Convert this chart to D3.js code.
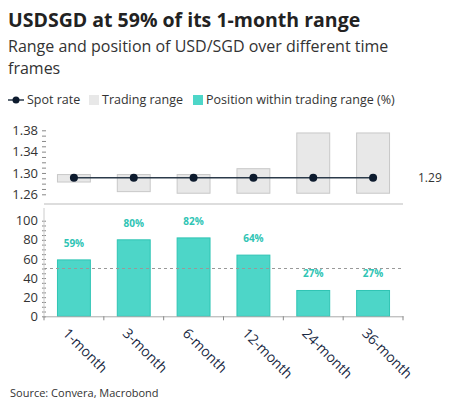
<!DOCTYPE html><html><head><meta charset="utf-8"><script src="https://d3js.org/d3.v7.min.js"></script>
<style>body{margin:0;background:#fff;font-family:"Open Sans",sans-serif}</style></head><body><script>
const categories=["1-month","3-month","6-month","12-month","24-month","36-month"];
const rangeLow=[1.283,1.265,1.262,1.262,1.262,1.262];
const rangeHigh=[1.297,1.297,1.297,1.308,1.375,1.375];
const spot=[1.291,1.291,1.291,1.291,1.291,1.291];
const position=[59,80,82,64,27,27];
const topTicks=[1.26,1.30,1.34,1.38];
const botTicks=[0,20,40,60,80,100];
const W=454,H=416,L=44,R=403;
const svg=d3.select("body").append("svg").attr("width",W).attr("height",H);
svg.append("text").attr("x",8).attr("y",27).attr("font-size",19.5).attr("font-weight",700).attr("fill","#222").text("USDSGD at 59% of its 1-month range");
svg.append("text").attr("x",8).attr("y",52).attr("font-size",16).attr("fill","#333").text("Range and position of USD/SGD over different time");
svg.append("text").attr("x",8).attr("y",74).attr("font-size",16).attr("fill","#333").text("frames");
const lg=svg.append("g").attr("font-size",12.5).attr("fill","#333");
lg.append("line").attr("x1",8).attr("x2",24).attr("y1",100).attr("y2",100).attr("stroke","#2b3a4a").attr("stroke-width",1.5);
lg.append("circle").attr("cx",16).attr("cy",100).attr("r",3.5).attr("fill","#0d1b2e");
lg.append("text").attr("x",27).attr("y",104).text("Spot rate");
lg.append("rect").attr("x",89).attr("y",95).attr("width",10).attr("height",10).attr("fill","#e8e8e8");
lg.append("text").attr("x",102).attr("y",104).text("Trading range");
lg.append("rect").attr("x",193).attr("y",95).attr("width",10).attr("height",10).attr("fill","#4dd6c8");
lg.append("text").attr("x",206).attr("y",104).text("Position within trading range (%)");
const x=d3.scaleBand().domain(categories).range([L,R]).paddingInner(0.45).paddingOuter(0.225);
const yT=d3.scaleLinear().domain([1.26,1.38]).range([194.3,130.3]);
const yB=d3.scaleLinear().domain([0,100]).range([316.3,220.7]);
svg.append("line").attr("x1",L).attr("x2",R).attr("y1",204).attr("y2",204).attr("stroke","#ddd").attr("stroke-width",2);
svg.selectAll(".rg").data(categories).enter().append("rect").attr("x",d=>x(d)).attr("width",x.bandwidth())
 .attr("y",(d,i)=>yT(rangeHigh[i])).attr("height",(d,i)=>yT(rangeLow[i])-yT(rangeHigh[i])).attr("fill","#e8e8e8").attr("stroke","#c8c8c8");
const cx=d=>x(d)+x.bandwidth()/2;
svg.append("path").datum(categories).attr("d",d3.line().x(cx).y((d,i)=>yT(spot[i]))).attr("stroke","#2b3a4a").attr("stroke-width",1.5).attr("fill","none");
svg.selectAll(".sp").data(categories).enter().append("circle").attr("cx",cx).attr("cy",(d,i)=>yT(spot[i])).attr("r",4).attr("fill","#0d1b2e");
svg.append("text").attr("x",418).attr("y",yT(spot[5])+4).attr("font-size",12).attr("fill","#333").text(spot[5].toFixed(2));
const aT=svg.append("g").attr("transform",`translate(${L},0)`).call(d3.axisLeft(yT).tickValues(topTicks).tickFormat(d3.format(".2f")).tickSize(0).tickPadding(6));
aT.select(".domain").remove();aT.selectAll("text").attr("font-size",13).attr("font-family","Open Sans").attr("fill","#333");
svg.append("g").attr("transform",`translate(${L-2},0)`).call(d3.axisRight(yT).tickValues(d3.range(126,139).map(v=>v/100)).tickSize(4).tickFormat("")).call(g=>{g.select(".domain").remove();g.selectAll("line").attr("stroke","#888");});
svg.selectAll(".pb").data(categories).enter().append("rect").attr("x",d=>x(d)).attr("width",x.bandwidth())
 .attr("y",(d,i)=>yB(position[i])).attr("height",(d,i)=>yB(0)-yB(position[i])).attr("fill","#4dd6c8").attr("stroke","#2fc4b4");
svg.selectAll(".pl").data(categories).enter().append("text").attr("x",cx).attr("y",(d,i)=>yB(position[i])-13).attr("text-anchor","middle")
 .attr("font-size",10).attr("font-weight",700).attr("fill","#2fc4b4").text((d,i)=>position[i]+"%");
svg.append("line").attr("x1",L).attr("x2",R).attr("y1",yB(50)).attr("y2",yB(50)).attr("stroke","#999").attr("stroke-dasharray","3,3");
const aB=svg.append("g").attr("transform",`translate(${L},0)`).call(d3.axisLeft(yB).tickValues(botTicks).tickSize(0).tickPadding(6));
aB.select(".domain").remove();aB.selectAll("text").attr("font-size",13).attr("font-family","Open Sans").attr("fill","#333");
svg.append("g").attr("transform",`translate(${L-2},0)`).call(d3.axisRight(yB).tickValues(d3.range(0,105,5)).tickSize(4).tickFormat("")).call(g=>{g.select(".domain").remove();g.selectAll("line").attr("stroke","#888");});
svg.append("line").attr("x1",L).attr("x2",L).attr("y1",208).attr("y2",318).attr("stroke","#ccc");
const xa=svg.append("g").attr("transform",`translate(0,316.3)`).call(d3.axisBottom(x).tickSize(0).tickPadding(0));
xa.select(".domain").attr("stroke","#aaa");
xa.selectAll(".ex").data(d3.range(7)).enter().append("line").attr("x1",i=>L+i*(R-L)/6).attr("x2",i=>L+i*(R-L)/6).attr("y1",0).attr("y2",4).attr("stroke","#888");
xa.selectAll(".tick text").attr("font-size",14).attr("font-family","Open Sans").attr("fill","#1a2a44").attr("text-anchor","start")
 .attr("transform","translate(-5,11) rotate(45)").attr("dy","0.7em");
svg.append("text").attr("x",10).attr("y",397).attr("font-size",11).attr("fill","#333").text("Source: Convera, Macrobond");
</script></body></html>
